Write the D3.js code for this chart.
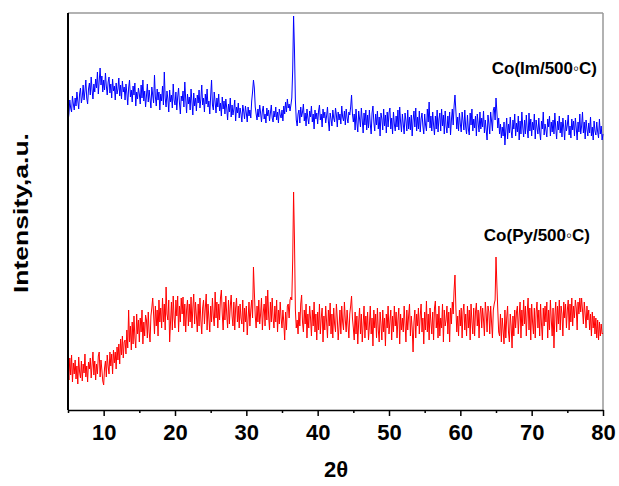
<!DOCTYPE html>
<html>
<head>
<meta charset="utf-8">
<script src="https://cdn.jsdelivr.net/npm/d3@7/dist/d3.min.js"></script>
<style>
  html, body { margin: 0; padding: 0; background: #fff; }
  svg { display: block; }
  text { font-family: "Liberation Sans", Arial, sans-serif; font-weight: bold; fill: #000; }
</style>
</head>
<body>
<svg id="chart" width="619" height="486"></svg>
<script>
// 2θ sampling grid (degrees)
const twoThetaStart = 5;
const twoThetaStep = 0.125;

// Co(Im/500°C) intensities (a.u.), one row per degree (5 ... 79, then 80)
const coIm = [
  288,296,310,302,298,314,306,300,
  312,304,318,309,301,316,322,307,
  313,325,310,319,330,312,306,321,
  327,315,333,320,311,326,318,331,
  322,338,316,329,342,325,334,318,
  330,320,337,324,315,328,333,317,
  326,312,331,319,324,310,327,316,
  321,332,314,325,311,329,318,323,
  310,326,317,305,322,330,313,320,
  308,324,315,327,304,318,311,322,
  316,306,325,312,330,309,319,303,
  314,326,308,320,311,302,323,315,
  307,335,313,304,321,310,318,300,
  316,309,324,305,338,312,303,319,
  311,298,320,308,315,302,326,310,
  305,318,300,313,322,307,296,314,
  309,319,303,328,311,297,316,306,
  313,300,321,308,295,317,304,312,
  299,315,307,320,302,311,325,305,
  312,298,316,306,321,303,309,296,
  314,330,305,300,318,308,297,312,
  303,316,299,307,294,313,301,309,
  296,311,302,290,306,298,312,293,
  305,295,301,310,289,303,297,307,
  292,302,296,288,305,299,291,304,
  297,288,303,294,300,292,309,318,
  330,322,303,296,290,301,293,305,
  297,288,299,304,291,296,287,302,
  294,300,289,297,305,292,288,299,
  293,303,290,298,287,301,295,292,
  300,289,304,296,308,298,311,302,
  306,299,305,312,340,394,360,310,
  290,284,296,300,287,303,293,298,
  306,289,297,284,301,292,286,299,
  293,304,288,296,281,300,291,297,
  286,299,305,290,296,283,301,292,
  298,287,294,303,289,279,297,291,
  284,300,292,288,302,295,283,298,
  290,296,286,304,293,289,299,285,
  301,292,287,298,295,303,315,296,
  288,296,280,301,287,278,299,291,
  283,302,290,277,297,285,300,280,
  295,282,300,286,276,297,304,288,
  279,296,285,299,281,293,274,297,
  291,280,301,284,295,277,298,283,
  297,302,281,292,276,298,286,279,
  294,283,300,280,303,288,278,296,
  286,276,297,289,279,300,281,293,
  280,295,274,290,299,283,302,279,
  293,281,299,278,291,297,284,276,
  296,285,279,301,288,308,282,294,
  279,298,285,275,294,281,300,278,
  291,297,279,301,284,295,276,299,
  284,277,294,282,298,275,290,301,
  285,304,315,299,281,293,279,297,
  286,278,298,289,280,300,283,276,
  295,281,275,297,285,301,279,291,
  282,294,274,296,287,278,298,281,
  292,283,299,277,290,280,270,295,
  286,276,298,289,279,300,303,290,
  312,298,282,292,276,286,272,283,
  274,288,265,280,292,271,286,277,
  293,279,272,290,281,296,274,287,
  278,294,270,289,276,298,283,273,
  290,276,295,281,272,297,279,291,
  274,288,280,296,271,290,282,276,
  292,278,270,289,281,298,275,286,
  280,273,291,283,294,274,288,278,
  290,276,297,282,271,289,280,294,
  277,288,273,292,282,270,290,279,
  285,295,275,284,272,291,280,289,
  274,292,282,270,288,278,296,276,
  284,298,277,288,271,290,281,274,
  287,277,293,274,283,270,289,279,
  275,288,278,272,291,276,284,270,
  276
];

// Co(Py/500°C) intensities (a.u.), one row per degree (5 ... 79, then 80)
const coPy = [
  42,30,52,35,55,28,47,36,
  50,31,44,26,53,38,32,49,
  29,46,37,56,33,44,28,48,
  41,52,32,45,58,35,49,30,
  46,36,54,58,33,50,40,29,
  25,42,49,33,55,44,36,58,
  44,56,36,60,47,58,41,63,
  50,66,46,71,55,74,52,68,
  70,56,80,62,100,68,84,60,
  88,66,94,72,62,96,76,90,
  68,92,78,100,66,88,74,95,
  90,72,98,78,68,94,102,112,
  96,76,104,84,100,74,110,88,
  102,82,112,88,106,80,123,96,
  90,110,68,88,108,80,114,92,
  82,110,94,114,78,104,88,112,
  96,113,84,106,78,100,110,84,
  106,88,113,82,102,116,86,108,
  94,78,106,84,112,90,76,102,
  110,86,102,116,80,106,92,78,
  104,88,112,94,84,118,92,108,
  82,106,90,112,120,96,80,108,
  90,114,96,82,110,86,104,115,
  94,84,108,80,102,112,88,104,
  82,106,92,86,110,78,102,88,
  104,75,92,108,84,100,110,92,
  143,118,94,82,104,88,110,86,
  96,112,80,98,106,84,114,90,
  120,94,80,108,88,112,92,82,
  104,88,110,78,100,86,108,92,
  82,100,88,70,98,80,104,106,
  92,110,113,110,150,218,170,100,
  82,90,76,98,84,106,115,88,
  78,100,86,106,72,96,82,104,
  92,74,100,84,108,78,96,70,
  98,80,106,76,92,102,68,94,
  80,104,88,72,100,84,107,76,
  96,72,102,86,78,106,92,70,
  84,100,76,104,88,80,108,90,
  78,100,86,72,96,104,114,92,
  82,70,98,76,94,66,88,102,
  76,96,68,86,104,72,94,80,
  98,70,84,104,76,92,64,100,
  82,96,72,102,80,68,98,86,
  70,100,78,92,64,96,82,104,
  76,88,100,70,94,78,104,84,
  98,72,90,102,66,96,80,92,
  78,104,86,68,100,80,94,106,
  74,94,82,58,88,100,72,96,
  84,102,76,94,106,78,92,66,
  98,80,109,78,96,70,102,88,
  76,98,70,102,109,82,96,72,
  104,74,92,82,106,68,100,84,
  90,104,76,98,68,102,86,108,
  96,120,135,102,78,94,74,100,
  84,102,72,98,106,80,96,74,
  104,82,100,70,106,88,76,102,
  74,98,107,84,100,72,96,104,
  82,102,90,74,108,96,78,104,
  98,76,104,88,72,100,106,110,
  153,125,100,78,74,96,68,92,
  80,66,100,72,92,104,78,68,
  96,84,62,94,74,100,82,98,
  104,76,94,108,72,100,84,110,
  86,104,74,98,112,80,102,70,
  106,88,76,102,72,98,108,82,
  100,74,106,86,70,102,84,104,
  88,108,72,100,80,110,90,74,
  102,62,94,108,78,104,86,110,
  80,104,96,74,108,92,106,82,
  100,110,80,106,88,112,84,104,
  92,110,102,80,108,96,112,98,
  112,100,86,108,96,82,104,90,
  100,80,96,74,98,82,94,76,
  92,72,90,70,88,74,86,76,
  77
];

const majorTicks = [10, 20, 30, 40, 50, 60, 70, 80];
const minorTicks = [5, 15, 25, 35, 45, 55, 65, 75];
const seriesLabels = ["Co(Im/500\u25E6C)", "Co(Py/500\u25E6C)"];
const xTitle = "2\u03B8";
const yTitle = "Intensity,a.u.";

const svg = d3.select("#chart");
const L = 68, R = 603, T = 13, B = 410;

const x = d3.scaleLinear().domain([5, 80]).range([L, R]);
const y = d3.scaleLinear().domain([0, 397]).range([B, T]);

const toPoints = arr => arr.map((v, i) => [twoThetaStart + i * twoThetaStep, v]);
const line = d3.line().x(d => x(d[0])).y(d => y(d[1]));

// frame (top/right grey)
svg.append("line").attr("x1", L).attr("x2", R).attr("y1", T).attr("y2", T)
  .attr("stroke", "#999").attr("stroke-width", 1.5);
svg.append("line").attr("x1", R).attr("x2", R).attr("y1", T).attr("y2", B)
  .attr("stroke", "#999").attr("stroke-width", 1.5);

// series
svg.append("path").datum(toPoints(coIm)).attr("d", line)
  .attr("fill", "none").attr("stroke", "#0000ff").attr("stroke-width", 1);
svg.append("path").datum(toPoints(coPy)).attr("d", line)
  .attr("fill", "none").attr("stroke", "#ff0000").attr("stroke-width", 1);

// left axis line
svg.append("line").attr("x1", L).attr("x2", L).attr("y1", T).attr("y2", B)
  .attr("stroke", "#000").attr("stroke-width", 2);

// bottom axis
const gx = svg.append("g").attr("transform", `translate(0,${B})`)
  .call(d3.axisBottom(x).tickValues(majorTicks).tickSize(6).tickSizeOuter(0).tickPadding(8));
gx.select(".domain").attr("stroke", "#000").attr("stroke-width", 1.5);
gx.selectAll(".tick line").attr("stroke", "#000").attr("stroke-width", 1.5);
gx.selectAll(".tick text").style("font-size", "22px").style("font-weight", "bold")
  .style("font-family", "'Liberation Sans', Arial, sans-serif").attr("fill", "#000");

const gm = svg.append("g").attr("transform", `translate(0,${B})`)
  .call(d3.axisBottom(x).tickValues(minorTicks).tickSize(3).tickSizeOuter(0).tickFormat(""));
gm.select(".domain").remove();
gm.selectAll(".tick line").attr("stroke", "#000").attr("stroke-width", 1.5);

// series labels
svg.append("text").attr("x", 597).attr("y", 74).attr("text-anchor", "end")
  .style("font-size", "17px").text(seriesLabels[0]);
svg.append("text").attr("x", 590).attr("y", 241).attr("text-anchor", "end")
  .style("font-size", "17px").text(seriesLabels[1]);

// axis titles
svg.append("text").attr("x", 336).attr("y", 477).attr("text-anchor", "middle")
  .style("font-size", "22px").text(xTitle);
svg.append("text").attr("transform", "translate(28,213) rotate(-90)").attr("text-anchor", "middle")
  .style("font-size", "21px").attr("textLength", 160).attr("lengthAdjust", "spacingAndGlyphs")
  .text(yTitle);
</script>
</body>
</html>
